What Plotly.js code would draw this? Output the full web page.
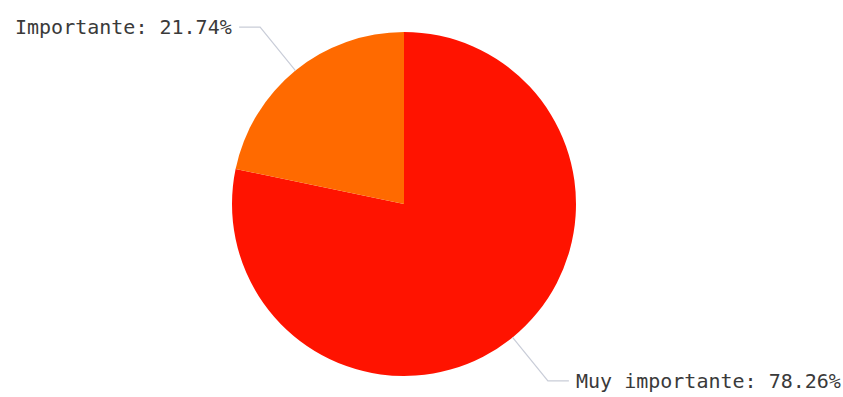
<!DOCTYPE html>
<html>
<head>
<meta charset="utf-8">
<script src="https://cdn.plot.ly/plotly-3.0.1.min.js"></script>
<style>html,body{margin:0;padding:0;background:#fff;}#chart{width:843px;height:397px;}</style>
</head>
<body>
<div id="chart"></div>
<script>
const labels = ["Muy importante", "Importante"];
const values = [78.26, 21.74];
const colors = ["#ff1300", "#ff6a00"];

const W = 843, H = 397;
const cx = 404, cy = 204, R = 172;
const dom = {x: [(cx - R) / W, (cx + R) / W], y: [(H - cy - R) / H, (H - cy + R) / H]};

const total = values.reduce((a, b) => a + b, 0);
const shapes = [], annotations = [];
let cum = 0;
values.forEach((v, i) => {
  const mid = (cum + v / 2) / total * 2 * Math.PI; // clockwise from top
  cum += v;
  const dx = Math.sin(mid), dy = -Math.cos(mid);
  const ex = cx + R * dx, ey = cy + R * dy;
  const L = 56;
  const bx = ex + L * dx, by = ey + L * dy;
  const side = dx >= 0 ? 1 : -1;
  const hx = bx + side * 21;
  const px = x => x / W, py = y => (H - y) / H;
  shapes.push({type: 'path', xref: 'paper', yref: 'paper',
    path: `M ${px(ex)} ${py(ey)} L ${px(bx)} ${py(by)} L ${px(hx)} ${py(by)}`,
    line: {color: '#c9cdd8', width: 1.2}});
  annotations.push({xref: 'paper', yref: 'paper', x: px(hx + side * 5), y: py(by),
    xanchor: side > 0 ? 'left' : 'right', yanchor: 'middle', showarrow: false,
    text: labels[i] + ': ' + v.toFixed(2) + '%',
    font: {family: 'DejaVu Sans Mono', size: 20, color: '#3a3a3a'}});
});

const data = [{
  type: 'pie', labels: labels, values: values, sort: false, direction: 'clockwise', rotation: 0,
  marker: {colors: colors, line: {width: 0}}, textinfo: 'none', hoverinfo: 'label+percent',
  domain: dom, showlegend: false
}];
const layout = {
  width: W, height: H, margin: {l: 0, r: 0, t: 0, b: 0},
  paper_bgcolor: '#fff', plot_bgcolor: '#fff', showlegend: false,
  shapes: shapes, annotations: annotations
};
Plotly.newPlot('chart', data, layout, {displayModeBar: false, staticPlot: true});
</script>
</body>
</html>
